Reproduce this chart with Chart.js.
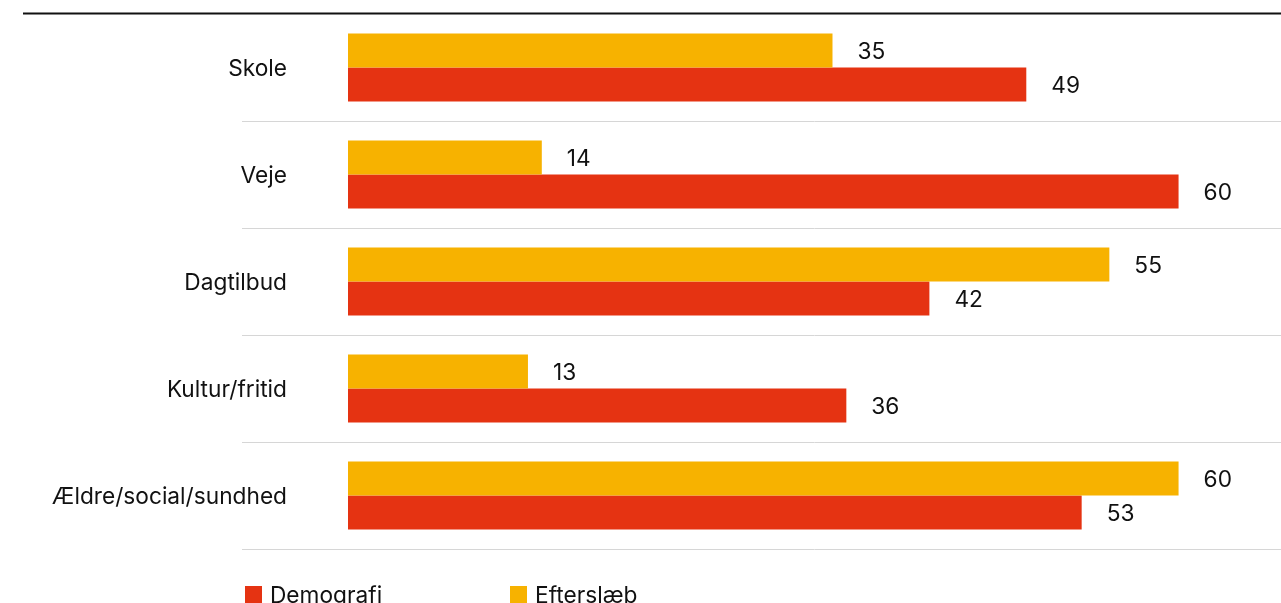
<!DOCTYPE html>
<html>
<head>
<meta charset="utf-8">
<script src="https://cdn.jsdelivr.net/npm/chart.js@4"></script>
<style>
  html, body { margin: 0; padding: 0; background: #fff; overflow: hidden; }
  #wrap { width: 1281px; height: 603px; }
</style>
</head>
<body>
<div id="wrap"><canvas id="myChart" width="1281" height="603"></canvas></div>
<script>
const kategorier = ['Skole', 'Veje', 'Dagtilbud', 'Kultur/fritid', 'Ældre/social/sundhed']
const efterslaeb = [35, 14, 55, 13, 60]
const demografi = [49, 60, 42, 36, 53]

const GUL = 'rgb(247, 178, 0)'
const ROED = 'rgb(229, 51, 18)'
const FONT = 'Inter, "Liberation Sans", Arial, sans-serif'

// top line + value labels + legend drawn on the canvas
const ekstra = {
    id: 'ekstra',
    afterDraw(chart) {
        const ctx = chart.ctx
        const area = chart.chartArea
        ctx.save()

        ctx.strokeStyle = '#111'
        ctx.lineWidth = 2
        ctx.beginPath()
        ctx.moveTo(23, area.top - 0.5)
        ctx.lineTo(chart.width, area.top - 0.5)
        ctx.stroke()

        ctx.font = '22.7px ' + FONT
        ctx.fillStyle = '#111'
        ctx.textAlign = 'left'
        ctx.textBaseline = 'middle'
        chart.data.datasets.forEach((ds, i) => {
            chart.getDatasetMeta(i).data.forEach((bar, j) => {
                ctx.fillText(ds.data[j], bar.x + 25, bar.y + 2)
            })
        })

        // legend, Demografi first
        const items = chart.data.datasets.slice().reverse()
        items.forEach((ds, k) => {
            const x = 245 + k * 265
            ctx.fillStyle = ds.backgroundColor
            ctx.fillRect(x, 586, 17, 17)
            ctx.fillStyle = '#111'
            ctx.textBaseline = 'alphabetic'
            ctx.fillText(ds.label, x + 25, 603)
        })
        ctx.restore()
    }
}

const ctx = document.getElementById('myChart').getContext('2d')

new Chart(ctx, {
    type: 'bar',
    data: {
        labels: kategorier,
        datasets: [
            { label: 'Efterslæb', data: efterslaeb, backgroundColor: GUL },
            { label: 'Demografi', data: demografi, backgroundColor: ROED }
        ]
    },
    options: {
        indexAxis: 'y',
        responsive: false,
        animation: false,
        devicePixelRatio: 1,
        categoryPercentage: 0.636,
        barPercentage: 1,
        layout: { padding: { top: 14, bottom: 54, left: 0, right: 0 } },
        plugins: {
            legend: { display: false },
            tooltip: { enabled: false }
        },
        scales: {
            x: {
                display: false,
                min: 0,
                max: 67.4
            },
            y: {
                afterFit: (scale) => { scale.width = 348 },
                border: { display: false },
                grid: {
                    color: (c) => c.index === 0 ? 'rgba(0,0,0,0)' : '#d6d6d6',
                    lineWidth: 1,
                    tickLength: 106,
                    offset: true
                },
                ticks: {
                    padding: -45,
                    labelOffset: 2,
                    color: '#111',
                    font: { family: FONT, size: 22.7 }
                }
            }
        }
    },
    plugins: [ekstra]
})
</script>
</body>
</html>
